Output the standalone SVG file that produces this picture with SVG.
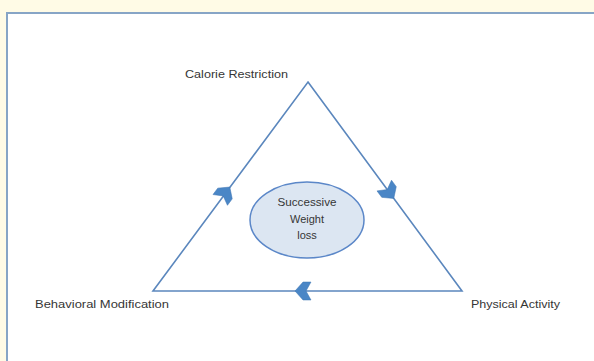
<svg xmlns="http://www.w3.org/2000/svg" width="594" height="361" viewBox="0 0 594 361">
<defs>
<style>
.lbl{font-family:"Liberation Sans","Open Sans",Arial,sans-serif;font-size:11px;fill:#363636;}
.edge{stroke:#5b87bd;stroke-width:1.6;fill:none;}
.head{fill:#4a86c6;stroke:#3f76b3;stroke-width:0.5;}
</style>
<polygon id="chev" points="8,0 0,-9 -8,-9 -3,0 -8,9 0,9"/>
</defs>
<rect x="0" y="0" width="594" height="361" fill="#fffbe6"/>
<rect x="7" y="13" width="600" height="360" fill="#ffffff" stroke="#87a5c6" stroke-width="2"/>
<g id="connectors">
<path class="edge" d="M308,82 L462,291 L153,291 Z"/>
<use href="#chev" class="head" transform="translate(225,193.5) rotate(-53.4)"/>
<use href="#chev" class="head" transform="translate(389,192) rotate(53.6)"/>
<use href="#chev" class="head" transform="translate(303,291) rotate(180)"/>
</g>
<g id="calorie"><text class="lbl" x="185" y="78" textLength="103" lengthAdjust="spacingAndGlyphs">Calorie Restriction</text></g>
<g id="behavioral"><text class="lbl" x="35" y="308" textLength="134" lengthAdjust="spacingAndGlyphs">Behavioral Modification</text></g>
<g id="physical"><text class="lbl" x="471" y="308" textLength="89" lengthAdjust="spacingAndGlyphs">Physical Activity</text></g>
<g id="center">
<ellipse cx="307" cy="220" rx="57" ry="38" fill="#dce6f2" stroke="#5b87c8" stroke-width="1.5"/>
<text class="lbl" x="307" y="206" text-anchor="middle" textLength="59" lengthAdjust="spacingAndGlyphs">Successive</text>
<text class="lbl" x="307" y="223" text-anchor="middle">Weight</text>
<text class="lbl" x="307" y="239" text-anchor="middle">loss</text>
</g>
</svg>
